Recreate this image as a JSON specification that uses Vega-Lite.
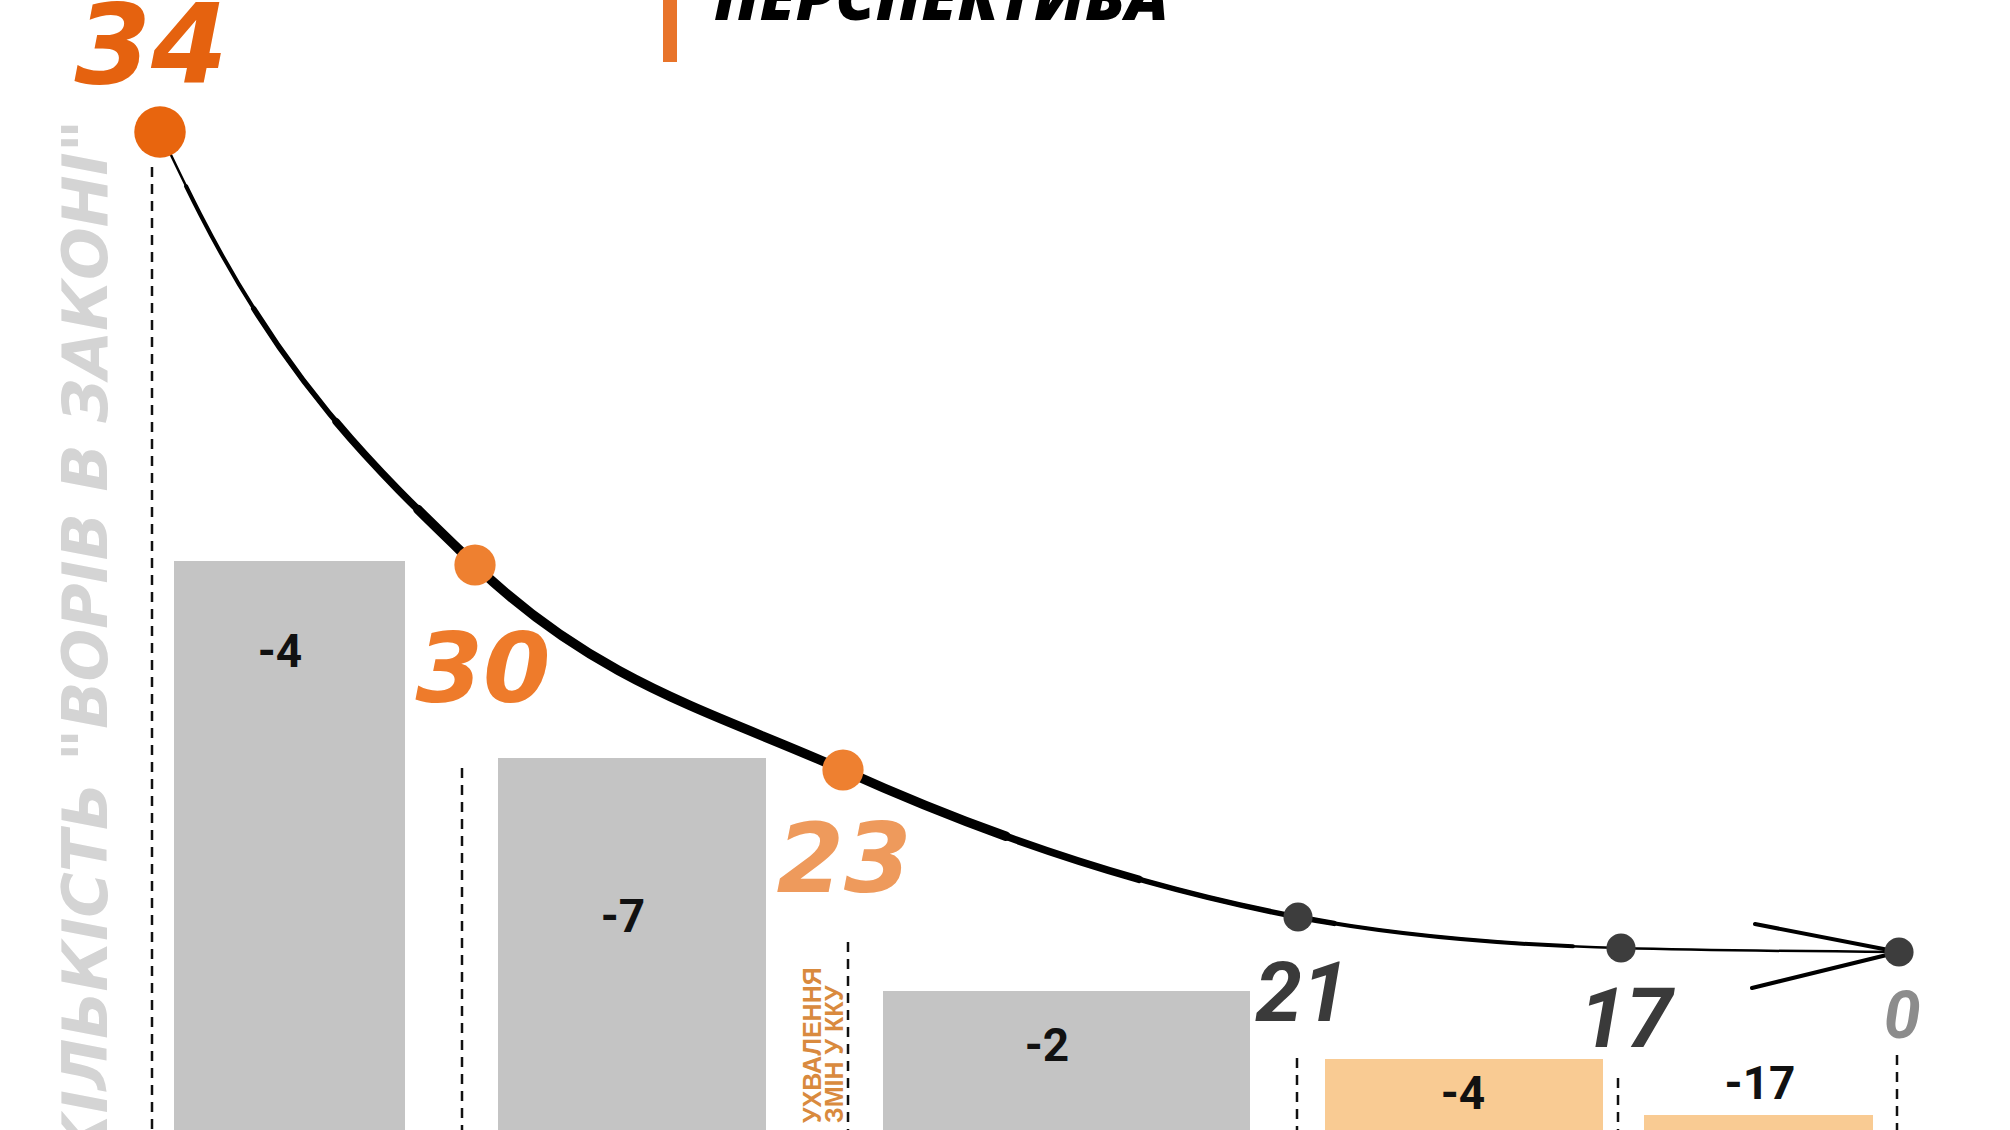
{
  "$schema": "https://vega.github.io/schema/vega-lite/v6.json",
  "width": 2010,
  "height": 1130,
  "padding": 0,
  "autosize": {"type": "none"},
  "background": "#ffffff",
  "config": {"view": {"stroke": null}},
  "datasets": {
    "bars": [
      {"x": 174, "x2": 405, "y": 561, "y2": 1130, "kind": "past"},
      {"x": 498, "x2": 766, "y": 758, "y2": 1130, "kind": "past"},
      {"x": 883, "x2": 1250, "y": 991, "y2": 1130, "kind": "past"},
      {"x": 1325, "x2": 1603, "y": 1059, "y2": 1130, "kind": "plan"},
      {"x": 1644, "x2": 1873, "y": 1115, "y2": 1130, "kind": "plan"}
    ],
    "barLabels": [
      {"x": 280, "y": 653, "text": "-4"},
      {"x": 623, "y": 918, "text": "-7"},
      {"x": 1047, "y": 1047, "text": "-2"},
      {"x": 1463, "y": 1095, "text": "-4"},
      {"x": 1760, "y": 1085, "text": "-17"}
    ],
    "guides": [
      {"x": 152, "y": 167, "y2": 1130},
      {"x": 462, "y": 768, "y2": 1130},
      {"x": 848, "y": 942, "y2": 1130},
      {"x": 1297, "y": 1058, "y2": 1130},
      {"x": 1618, "y": 1078, "y2": 1130},
      {"x": 1897, "y": 1055, "y2": 1130}
    ],
    "curve": [
      {"x": 160, "y": 132, "count": 34, "phase": "start"},
      {"x": 200, "y": 214, "count": null, "phase": "path"},
      {"x": 475, "y": 565, "count": 30, "phase": "past"},
      {"x": 843, "y": 770, "count": 23, "phase": "past"},
      {"x": 1298, "y": 917, "count": 21, "phase": "plan"},
      {"x": 1621, "y": 948, "count": 17, "phase": "plan"},
      {"x": 1899, "y": 952, "count": 0, "phase": "plan"}
    ],
    "countLabels": [
      {"x": 151, "y": 50, "text": "34", "style": "start"},
      {"x": 483, "y": 673, "text": "30", "style": "past"},
      {"x": 844, "y": 863, "text": "23", "style": "past"},
      {"x": 1302, "y": 996, "text": "21", "style": "plan"},
      {"x": 1626, "y": 1022, "text": "17", "style": "plan"},
      {"x": 1902, "y": 1018, "text": "0", "style": "end"}
    ],
    "arrow": [
      {"x": 1755, "y": 924, "x2": 1899, "y2": 952},
      {"x": 1752, "y": 988, "x2": 1899, "y2": 952}
    ],
    "accent": [
      {"x": 670, "y": 0, "y2": 62}
    ],
    "notes": [
      {"id": "title", "x": 714, "y": 20, "text": "ПЕРСПЕКТИВА"},
      {"id": "ytitle", "x": 107, "y": 120, "text": "КІЛЬКІСТЬ \"ВОРІВ В ЗАКОНІ\""},
      {"id": "law", "x": 821, "y": 1123, "text": "УХВАЛЕННЯ|ЗМІН У ККУ"}
    ]
  },
  "encoding": {
    "x": {"field": "x", "type": "quantitative", "scale": {"domain": [0, 2010], "nice": false, "zero": false}, "axis": null},
    "y": {"field": "y", "type": "quantitative", "scale": {"domain": [0, 1130], "nice": false, "zero": false, "reverse": true}, "axis": null}
  },
  "layer": [
    {
      "data": {"name": "bars"},
      "mark": {"type": "rect"},
      "encoding": {
        "x2": {"field": "x2"},
        "y2": {"field": "y2"},
        "color": {"field": "kind", "type": "nominal", "scale": {"domain": ["past", "plan"], "range": ["#C4C4C4", "#F9CB93"]}, "legend": null}
      }
    },
    {
      "data": {"name": "barLabels"},
      "mark": {"type": "text", "font": "Liberation Sans Narrow, Roboto", "fontWeight": "bold", "fontSize": 46, "color": "#111111", "baseline": "middle", "align": "center"},
      "encoding": {"text": {"field": "text"}}
    },
    {
      "data": {"name": "guides"},
      "mark": {"type": "rule", "strokeDash": [10, 7], "strokeWidth": 2.5, "color": "#111111"},
      "encoding": {"y2": {"field": "y2"}}
    },
    {
      "data": {"name": "curve"},
      "mark": {"type": "line", "interpolate": "monotone", "strokeWidth": 2.5, "color": "#000000", "strokeCap": "round"},
      "encoding": {}
    },
    {
      "data": {"name": "curve"},
      "mark": {"type": "line", "interpolate": "monotone", "strokeWidth": 4, "color": "#000000", "strokeCap": "round", "strokeDash": [0, 60, 1660, 6000]},
      "encoding": {}
    },
    {
      "data": {"name": "curve"},
      "mark": {"type": "line", "interpolate": "monotone", "strokeWidth": 5.5, "color": "#000000", "strokeCap": "round", "strokeDash": [0, 200, 1280, 6000]},
      "encoding": {}
    },
    {
      "data": {"name": "curve"},
      "mark": {"type": "line", "interpolate": "monotone", "strokeWidth": 7.5, "color": "#000000", "strokeCap": "round", "strokeDash": [0, 340, 940, 6000]},
      "encoding": {}
    },
    {
      "data": {"name": "curve"},
      "mark": {"type": "line", "interpolate": "monotone", "strokeWidth": 9.5, "color": "#000000", "strokeCap": "round", "strokeDash": [0, 460, 680, 6000]},
      "encoding": {}
    },
    {
      "data": {"name": "arrow"},
      "mark": {"type": "rule", "strokeWidth": 4, "color": "#000000", "strokeCap": "round"},
      "encoding": {"x2": {"field": "x2"}, "y2": {"field": "y2"}}
    },
    {
      "data": {"name": "curve"},
      "transform": [{"filter": "datum.phase === 'start'"}],
      "mark": {"type": "circle", "size": 2650, "opacity": 1, "color": "#E8650E"},
      "encoding": {}
    },
    {
      "data": {"name": "curve"},
      "transform": [{"filter": "datum.phase === 'past'"}],
      "mark": {"type": "circle", "size": 1700, "opacity": 1, "color": "#EE8030"},
      "encoding": {}
    },
    {
      "data": {"name": "curve"},
      "transform": [{"filter": "datum.phase === 'plan'"}],
      "mark": {"type": "circle", "size": 850, "opacity": 1, "color": "#3D3D3D"},
      "encoding": {}
    },
    {
      "data": {"name": "countLabels"},
      "transform": [{"filter": "datum.style === 'start'"}],
      "mark": {"type": "text", "font": "DejaVu Sans", "fontWeight": "bold", "fontStyle": "italic", "fontSize": 110, "color": "#E5620F", "baseline": "middle", "align": "center"},
      "encoding": {"text": {"field": "text"}}
    },
    {
      "data": {"name": "countLabels"},
      "transform": [{"filter": "datum.style === 'past'"}],
      "mark": {"type": "text", "font": "DejaVu Sans", "fontWeight": "bold", "fontStyle": "italic", "fontSize": 97, "baseline": "middle", "align": "center"},
      "encoding": {
        "text": {"field": "text"},
        "color": {"field": "text", "type": "nominal", "scale": {"domain": ["30", "23"], "range": ["#EE7B2B", "#EE9A5C"]}, "legend": null}
      }
    },
    {
      "data": {"name": "countLabels"},
      "transform": [{"filter": "datum.style === 'plan'"}],
      "mark": {"type": "text", "font": "Liberation Sans Narrow, Roboto", "fontWeight": "bold", "fontStyle": "italic", "fontSize": 84, "color": "#3A3A3A", "baseline": "middle", "align": "center"},
      "encoding": {"text": {"field": "text"}}
    },
    {
      "data": {"name": "countLabels"},
      "transform": [{"filter": "datum.style === 'end'"}],
      "mark": {"type": "text", "font": "Liberation Sans Narrow, Roboto", "fontWeight": "bold", "fontStyle": "italic", "fontSize": 66, "color": "#8C8C8C", "baseline": "middle", "align": "center"},
      "encoding": {"text": {"field": "text"}}
    },
    {
      "data": {"name": "accent"},
      "mark": {"type": "rule", "strokeWidth": 14, "color": "#E8742A", "strokeCap": "butt"},
      "encoding": {"y2": {"field": "y2"}}
    },
    {
      "data": {"name": "notes"},
      "transform": [{"filter": "datum.id === 'title'"}],
      "mark": {"type": "text", "font": "Open Sans", "fontWeight": 800, "fontStyle": "italic", "fontSize": 64, "color": "#000000", "baseline": "alphabetic", "align": "left"},
      "encoding": {"text": {"field": "text"}}
    },
    {
      "data": {"name": "notes"},
      "transform": [{"filter": "datum.id === 'ytitle'"}],
      "mark": {"type": "text", "angle": 270, "font": "DejaVu Sans", "fontWeight": "bold", "fontStyle": "italic", "fontSize": 62, "color": "#D4D4D4", "baseline": "alphabetic", "align": "right"},
      "encoding": {"text": {"field": "text"}}
    },
    {
      "data": {"name": "notes"},
      "transform": [{"filter": "datum.id === 'law'"}],
      "mark": {"type": "text", "angle": 270, "lineBreak": "|", "lineHeight": 22, "font": "Liberation Sans", "fontWeight": "bold", "fontSize": 25, "color": "#D98A3E", "baseline": "alphabetic", "align": "left"},
      "encoding": {"text": {"field": "text"}}
    }
  ],
  "resolve": {"scale": {"color": "independent"}}
}
